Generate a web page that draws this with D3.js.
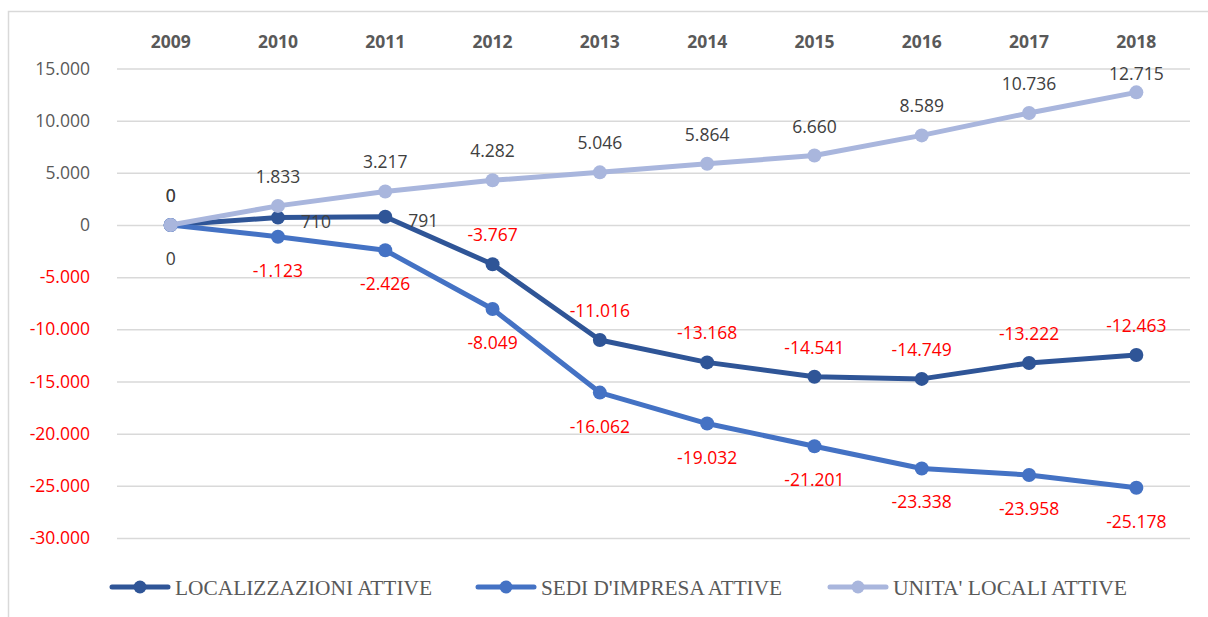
<!DOCTYPE html>
<html>
<head>
<meta charset="utf-8">
<script src="https://cdn.jsdelivr.net/npm/d3@7"></script>
<style>
  body { margin: 0; background: #fff; }
  svg { display: block; }
</style>
</head>
<body>
<svg id="chart" width="1208" height="617"></svg>
<script>
// data
var years = [2009, 2010, 2011, 2012, 2013, 2014, 2015, 2016, 2017, 2018];
var localizzazioni = [0, 710, 791, -3767, -11016, -13168, -14541, -14749, -13222, -12463];
var sedi = [0, -1123, -2426, -8049, -16062, -19032, -21201, -23338, -23958, -25178];
var unita = [0, 1833, 3217, 4282, 5046, 5864, 6660, 8589, 10736, 12715];
var yTicks = [15000, 10000, 5000, 0, -5000, -10000, -15000, -20000, -25000, -30000];

var series = [
  {name: "LOCALIZZAZIONI ATTIVE", values: localizzazioni, color: "#2f5597",
   pos: ["above","right","right","above","above","above","above","above","above","above"]},
  {name: "SEDI D'IMPRESA ATTIVE", values: sedi, color: "#4472c4",
   pos: ["below","below","below","below","below","below","below","below","below","below"]},
  {name: "UNITA' LOCALI ATTIVE", values: unita, color: "#a9b6dd",
   pos: ["above","above","above","above","above","above","above","above","above","above"]}
];

var it = d3.formatLocale({decimal: ",", thousands: ".", grouping: [3], currency: ["", ""], minus: "-"});
var fmt = it.format(",d");

var svg = d3.select("#chart");
var plotLeft = 117, plotRight = 1190, plotTop = 68.5, plotBottom = 538;
var labelFont = 17.5;

// outer frame
svg.append("rect")
  .attr("x", 8.5).attr("y", 11.5)
  .attr("width", 1210).attr("height", 620)
  .attr("fill", "none").attr("stroke", "#d9d9d9").attr("stroke-width", 1.5);

var x = d3.scaleBand().domain(years).range([plotLeft, plotRight]);
var y = d3.scaleLinear().domain([-30000, 15000]).range([plotBottom, plotTop]);
var cx = function(i){ return x(years[i]) + x.bandwidth()/2; };

// y axis + gridlines
var yAxis = svg.append("g")
  .attr("transform", "translate(" + plotLeft + ",0)")
  .call(d3.axisLeft(y).tickValues(yTicks).tickFormat(fmt)
        .tickSize(-(plotRight - plotLeft)).tickPadding(27));
yAxis.select(".domain").remove();
yAxis.selectAll(".tick line").attr("stroke", "#d9d9d9").attr("stroke-width", 1.5);
yAxis.selectAll(".tick text")
  .attr("font-family", "'Open Sans', sans-serif")
  .attr("font-size", labelFont)
  .attr("fill", function(d){ return d < 0 ? "#ff0000" : "#595959"; });

// year labels on top
var xAxis = svg.append("g")
  .attr("transform", "translate(0,48)")
  .call(d3.axisTop(x).tickSize(0).tickPadding(0));
xAxis.select(".domain").remove();
xAxis.selectAll(".tick text")
  .attr("font-family", "'Open Sans', sans-serif")
  .attr("font-size", 17.5)
  .attr("font-weight", "bold")
  .attr("fill", "#595959");

var line = d3.line()
  .x(function(d, i){ return cx(i); })
  .y(function(d){ return y(d); });

series.forEach(function(s){
  var g = svg.append("g");
  g.append("path")
    .datum(s.values)
    .attr("d", line)
    .attr("fill", "none")
    .attr("stroke", s.color)
    .attr("stroke-width", 5)
    .attr("stroke-linejoin", "round");
  g.selectAll("circle")
    .data(s.values)
    .join("circle")
    .attr("cx", function(d, i){ return cx(i); })
    .attr("cy", function(d){ return y(d); })
    .attr("r", 7)
    .attr("fill", s.color);
});

// data labels
series.forEach(function(s){
  svg.append("g").selectAll("text")
    .data(s.values)
    .join("text")
    .attr("font-family", "'Open Sans', sans-serif")
    .attr("font-size", labelFont)
    .attr("fill", function(d){ return d < 0 ? "#ff0000" : "#404040"; })
    .attr("dominant-baseline", "central")
    .attr("text-anchor", function(d, i){ return s.pos[i] == "right" ? "start" : "middle"; })
    .attr("x", function(d, i){ return s.pos[i] == "right" ? cx(i) + 23 : cx(i); })
    .attr("y", function(d, i){
      var p = y(d);
      if (s.pos[i] == "right") return p + 3;
      if (s.pos[i] == "below") return p + 33;
      return Math.max(p - 30, plotTop + 4);
    })
    .text(function(d){ return fmt(d); });
});

// legend
var legendX = [112, 478, 830];
var legendW = [257, 241, 234];
var legend = svg.append("g").attr("transform", "translate(0,587)");
series.forEach(function(s, i){
  var lg = legend.append("g").attr("transform", "translate(" + legendX[i] + ",0)");
  lg.append("line").attr("x1", 0).attr("x2", 56).attr("y1", 0).attr("y2", 0)
    .attr("stroke", s.color).attr("stroke-width", 5).attr("stroke-linecap", "round");
  lg.append("circle").attr("cx", 28).attr("cy", 0).attr("r", 6.5).attr("fill", s.color);
  lg.append("text")
    .attr("x", 63).attr("y", 1)
    .attr("dominant-baseline", "central")
    .attr("font-family", "'Liberation Serif', serif")
    .attr("font-size", 21)
    .attr("fill", "#595959")
    .attr("textLength", legendW[i])
    .attr("lengthAdjust", "spacingAndGlyphs")
    .text(s.name);
});
</script>
</body>
</html>
